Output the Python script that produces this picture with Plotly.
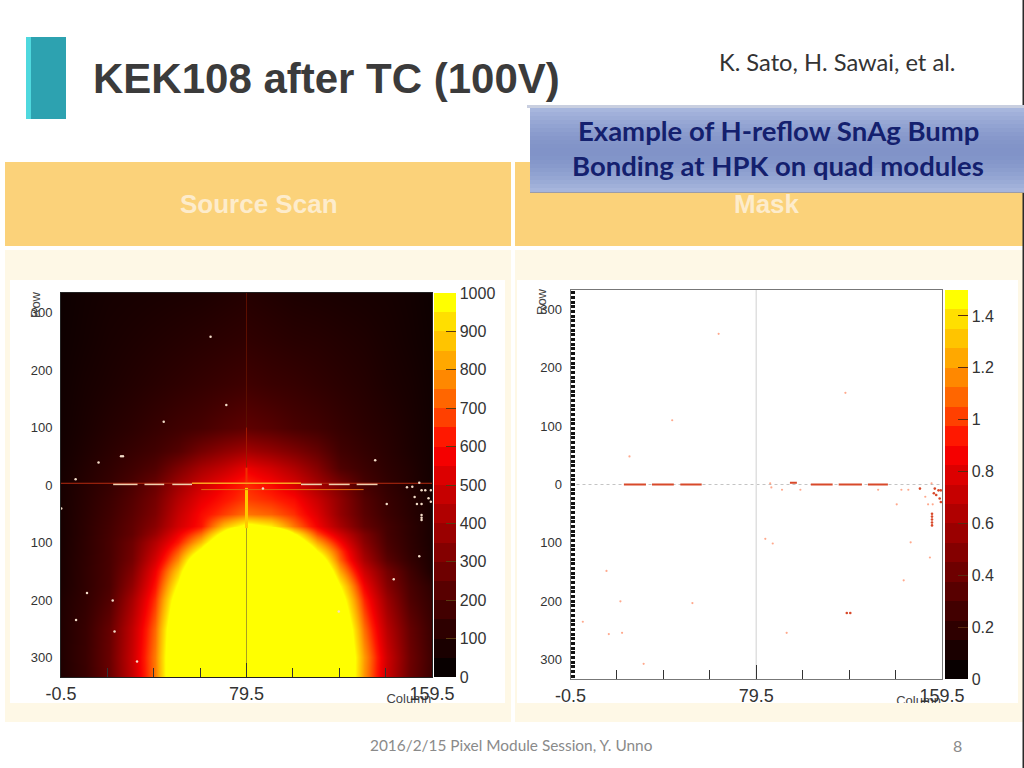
import plotly.graph_objects as go

# source scan counts (rows top to bottom, columns left to right)
scan_cols = [-0.5, 10, 20, 30, 40, 50, 60, 70, 80, 90, 100, 110, 120, 130, 140, 150, 159.5]
scan_rows = [334, 250, 175, 100, 60, 30, 0, -25, -50, -72, -85, -100, -115, -130, -150, -175, -200, -250, -300, -334]
scan_counts = [
    [15, 30, 40, 45, 50, 55, 60, 70, 80, 70, 60, 55, 50, 45, 40, 30, 15],
    [20, 35, 50, 60, 70, 80, 90, 100, 110, 100, 90, 85, 75, 65, 50, 35, 20],
    [25, 45, 60, 75, 90, 105, 120, 135, 150, 135, 125, 110, 95, 80, 60, 45, 25],
    [30, 55, 80, 100, 125, 150, 170, 200, 225, 205, 175, 155, 125, 100, 80, 55, 30],
    [35, 65, 95, 125, 155, 200, 280, 340, 390, 350, 300, 240, 155, 120, 90, 60, 35],
    [40, 75, 110, 150, 195, 300, 400, 470, 560, 500, 420, 320, 190, 140, 100, 70, 35],
    [45, 85, 125, 180, 250, 380, 490, 580, 650, 600, 520, 400, 290, 170, 115, 75, 40],
    [46, 90, 140, 200, 280, 430, 550, 620, 680, 650, 600, 480, 340, 200, 130, 85, 45],
    [46, 95, 150, 215, 300, 470, 600, 680, 760, 730, 660, 530, 350, 215, 140, 90, 45],
    [46, 100, 160, 230, 330, 500, 620, 880, 1060, 980, 760, 580, 400, 240, 160, 100, 50],
    [46, 100, 165, 235, 370, 570, 750, 1080, 1600, 1500, 1020, 700, 500, 300, 165, 100, 50],
    [48, 105, 170, 260, 430, 630, 880, 1250, 1800, 1800, 1200, 840, 590, 330, 175, 105, 50],
    [50, 105, 170, 270, 470, 720, 1050, 1550, 1800, 1800, 1450, 1000, 680, 370, 190, 110, 55],
    [52, 108, 172, 280, 510, 800, 1250, 1750, 1800, 1800, 1675, 1175, 730, 410, 215, 120, 55],
    [52, 110, 175, 310, 570, 910, 1400, 1800, 1800, 1800, 1800, 1350, 840, 490, 280, 150, 60],
    [55, 110, 178, 350, 620, 1025, 1525, 1800, 1800, 1800, 1800, 1500, 1000, 580, 320, 175, 100],
    [65, 115, 195, 400, 670, 1125, 1625, 1800, 1800, 1800, 1800, 1600, 1100, 650, 370, 190, 115],
    [70, 130, 240, 460, 740, 1250, 1750, 1800, 1800, 1800, 1800, 1800, 1250, 750, 440, 240, 135],
    [70, 135, 250, 480, 770, 1280, 1800, 1800, 1800, 1800, 1800, 1800, 1300, 820, 490, 260, 145],
    [65, 130, 245, 470, 765, 1280, 1800, 1800, 1800, 1800, 1800, 1800, 1300, 810, 480, 255, 140],
]

# hot pixels on the source scan
hot_cols = [64, 70.8, 43.8, 25.4, 26.2, 15.7, 135, 5.8, -0.4, 154, 148.7, 151, 155, 156.6, 159, 152, 158, 159,
            140, 153, 155, 155, 155, 155, 154, 143, 10.7, 21.8, 6, 22.6, 32.3, 119.3, 86.6]
hot_rows = [258, 139, 110, 50, 50, 39, 43, 10, -41, 4, -4, -3, -9, -9, -9, -21, -23, -29,
            -33, -33, -33, -52, -57, -61, -124, -164, -188, -201, -235, -255, -307, -220, -6]

# seams of the sensor on the source scan
seam_cols = [-0.5, 159.5]
seam_rows = [3, 3]
seam_bright_cols = [56, 103]
seam_bright_rows = [3, 3]
seam_low_cols = [60, 130]
seam_low_rows = [-8, -8]
seam_dash_cols = [22, 32.5, None, 35.5, 44, None, 47.5, 56, None, 103, 112, None, 115, 124, None, 127, 136]
seam_dash_rows = [1, 1, None, 1, 1, None, 1, 1, None, 1, 1, None, 1, 1, None, 1, 1]
spine_top_cols = [79.5, 79.5]
spine_top_rows = [334, 100]
spine_up_cols = [79.5, 79.5]
spine_up_rows = [100, 30]
spine_mid_cols = [79.5, 79.5]
spine_mid_rows = [30, -5]
spine_hot_cols = [79.5, 79.5]
spine_hot_rows = [-5, -75]
spine_low_cols = [79.5, 79.5]
spine_low_rows = [-75, -334]

# masked pixels
mask_faint_cols = [63.3, 43.3, 24.9, 117.9, 15, 21, 4.8, 16, 21.7, 31, 52, 92.6, 83.4, 86.6, 146, 154.3, 143, 140,
                   152.3, 153.5, 155.5, 142, 145, 132, 98.5, 90.6, 86, 85.5, 155]
mask_faint_rows = [258, 110, 48, 157, -148, -200, -235, -256, -254, -307, -203, -254, -93, -101, -99, -125, -164, -34,
                   -21, -34, -34, -9, -9, -9, -9, -9, -5, 2, 2]
mask_faint_vals = [1] * len(mask_faint_cols)
mask_red_cols = [150, 156.4, 158, 159, 156, 157, 158.5, 159, 155.2, 155.2, 155.2, 155.2, 155.2, 118.5, 120]
mask_red_rows = [-7, -7, -10, -10, -15, -18, -24, -30, -50, -55, -60, -65, -70, -220, -220]
mask_seg_cols = [22.5, 32, None, 34.6, 44, None, 46.8, 56, None, 94, 97, None, 103, 112.4, None, 115, 125, None, 127.6, 136.2]
mask_seg_rows = [0, 0, None, 0, 0, None, 0, 0, None, 3, 3, None, 0, 0, None, 0, 0, None, 0, 0]
mask_grid_h_cols = [-0.5, 159.5]
mask_grid_h_rows = [0, 0]
mask_grid_v_cols = [79.5, 79.5]
mask_grid_v_rows = [333, -333]

x_ticks = [-0.5, 79.5, 159.5]
x_ticktext = ["-0.5", "79.5", "159.5"]
x_minor = [19.5, 39.5, 59.5, 99.5, 119.5, 139.5]
y_ticks = [300, 200, 100, 0, -100, -200, -300]
y_ticktext = ["300", "200", "100", "0", "100", "200", "300"]

scan_bar_ticks = [0, 100, 200, 300, 400, 500, 600, 700, 800, 900, 1000]
mask_bar_ticks = [0, 0.2, 0.4, 0.6, 0.8, 1, 1.2, 1.4]
mask_bar_text = ["0", "0.2", "0.4", "0.6", "0.8", "1", "1.2", "1.4"]

palette = ["#080000", "#1a0000", "#2e0000", "#420000", "#580000", "#6e0000", "#840000", "#9a0000", "#b00000", "#c60000",
           "#dc0000", "#f50000", "#ff1800", "#ff4000", "#ff6600", "#ff8800", "#ffa800", "#ffc400", "#ffdf00", "#ffff00"]
box_colors = ["#a7b6dd", "#a1b0da", "#9cacd7", "#97a7d4", "#92a3d2", "#8e9fcf", "#8a9bcd", "#8798cb", "#8496c9", "#8294c8",
              "#8193c8", "#8193c8", "#8295c9", "#8597ca", "#889acc", "#8c9ece", "#90a2d1", "#95a6d3", "#9aabd6", "#a0b0d9", "#a6b5dc"]

W, H = 1024, 768
SANS = "Liberation Sans"
LATO = "Lato"

stepped = []
for i, c in enumerate(palette):
    stepped.append([i / len(palette), c])
    stepped.append([(i + 1) / len(palette), c])
smooth = [[i / (len(palette) - 1), c] for i, c in enumerate(palette)]


def dom_x(a, b):
    return [a / W, b / W]


def dom_y(top, bottom):
    return [1 - bottom / H, 1 - top / H]


def rect(x0, y0, x1, y1, color, layer="below"):
    return dict(type="rect", xref="paper", yref="paper", x0=x0 / W, x1=x1 / W, y0=1 - y0 / H, y1=1 - y1 / H,
                fillcolor=color, line_width=0, layer=layer)


def label(text, x, y, size, color, family=LATO, bold=False, **kw):
    return dict(text=f"<b>{text}</b>" if bold else text, x=x / W, y=1 - y / H, xref="paper", yref="paper",
                showarrow=False, xanchor="center", yanchor="middle", font=dict(size=size, color=color, family=family), **kw)


fig = go.Figure()

fig.add_trace(go.Heatmap(
    x=scan_cols, y=scan_rows, z=scan_counts, zmin=0, zmax=1000, zsmooth="best", colorscale=smooth,
    hoverinfo="skip", xaxis="x", yaxis="y", showscale=False,
))


def line(xs, ys, color, width, axes=("x", "y"), dash=None):
    fig.add_trace(go.Scatter(x=xs, y=ys, mode="lines", line=dict(color=color, width=width, dash=dash),
                             xaxis=axes[0], yaxis=axes[1], hoverinfo="skip", showlegend=False))


line(spine_top_cols, spine_top_rows, "#5c0e00", 1)
line(spine_up_cols, spine_up_rows, "#a01800", 1)
line(spine_mid_cols, spine_mid_rows, "#f03000", 2)
line(spine_hot_cols, spine_hot_rows, "#ffc800", 3)
line(spine_low_cols, spine_low_rows, "#a8a020", 1)
line(seam_cols, seam_rows, "#b52a10", 1)
line(seam_bright_cols, seam_bright_rows, "#ffa020", 1.5)
line(seam_low_cols, seam_low_rows, "#e06a10", 1)
line(seam_dash_cols, seam_dash_rows, "#f0d0b0", 1.5)

fig.add_trace(go.Scatter(
    x=hot_cols, y=hot_rows, mode="markers", xaxis="x", yaxis="y", hoverinfo="skip", showlegend=False,
    marker=dict(size=2.5, color="#f3dcc8", line_width=0),
))
# this trace only carries the stepped colour bar of the scan
fig.add_trace(go.Scatter(
    x=[None, None], y=[None, None], mode="markers", xaxis="x", yaxis="y", hoverinfo="skip", showlegend=False,
    marker=dict(color=[0, 1000], cmin=0, cmax=1000, colorscale=stepped,
                colorbar=dict(x=434 / W, xanchor="left", y=1 - 293 / H, yanchor="top", len=384 / H, lenmode="fraction",
                              thickness=22, xpad=0, ypad=0, outlinewidth=0, tickmode="array", tickvals=scan_bar_ticks,
                              ticks="inside", ticklen=10, tickcolor="#5a3a10",
                              tickfont=dict(family=SANS, size=16, color="#333"))),
))

line(mask_grid_h_cols, mask_grid_h_rows, "#c4c4c4", 1, ("x2", "y2"), "dot")
line(mask_grid_v_cols, mask_grid_v_rows, "#e0e0e0", 1.5, ("x2", "y2"))
line(mask_seg_cols, mask_seg_rows, "#d8492a", 2, ("x2", "y2"))

fig.add_trace(go.Scatter(
    x=mask_faint_cols, y=mask_faint_rows, mode="markers", xaxis="x2", yaxis="y2", hoverinfo="skip", showlegend=False,
    marker=dict(size=2.2, color=mask_faint_vals, cmin=0, cmax=1.5, colorscale=stepped, opacity=0.45, line_width=0,
                colorbar=dict(x=945 / W, xanchor="left", y=1 - 290 / H, yanchor="top", len=389 / H, lenmode="fraction",
                              thickness=23, xpad=0, ypad=0, outlinewidth=0, tickmode="array", tickvals=mask_bar_ticks,
                              ticktext=mask_bar_text, ticks="inside", ticklen=10, tickcolor="#5a2a10",
                              tickfont=dict(family=SANS, size=16, color="#333"))),
))
fig.add_trace(go.Scatter(x=mask_red_cols, y=mask_red_rows, mode="markers", xaxis="x2", yaxis="y2", hoverinfo="skip",
                         showlegend=False, marker=dict(size=2.6, color="#d8492a", line_width=0)))

# clipped axis captions sit in the plot layer so the pale band can cut them
fig.add_trace(go.Scatter(x=[149.5], y=[-333], mode="text", text=["<br>Column"], textposition="bottom center",
                         textfont=dict(family=SANS, size=13, color="#444"), cliponaxis=False, xaxis="x", yaxis="y",
                         hoverinfo="skip", showlegend=False))
fig.add_trace(go.Scatter(x=[149.4], y=[-332], mode="text", text=["<br>Column"], textposition="bottom center",
                         textfont=dict(family=SANS, size=13, color="#444"), cliponaxis=False, xaxis="x2", yaxis="y2",
                         hoverinfo="skip", showlegend=False))

x_common = dict(tickmode="array", tickvals=x_ticks, ticktext=x_ticktext, ticks="inside", ticklen=14, tickcolor="#333",
                tickfont=dict(family=SANS, size=18, color="#333"), showgrid=False, zeroline=False, showline=True, mirror=True,
                ticklabelstandoff=0, minor=dict(tickmode="array", tickvals=x_minor, ticks="inside", ticklen=9, tickcolor="#333", showgrid=False))
y_common = dict(tickmode="array", tickvals=y_ticks, ticktext=y_ticktext, tickfont=dict(family=SANS, size=13, color="#333"),
                showgrid=False, zeroline=False, showline=True, mirror=True, ticklabelstandoff=5)

shapes = [
    rect(26, 37, 66, 119, "#2da2b0"),
    rect(26, 37, 31, 119, "#4fd8de"),
    rect(5, 162, 511, 246, "#fbd27a"),
    rect(515, 162, 1024, 246, "#fbd27a"),
    rect(5, 250, 511, 722, "#fef8e6"),
    rect(515, 250, 1024, 722, "#fef8e6"),
    rect(10, 280, 505, 703, "#ffffff"),
    rect(517, 280, 1018, 703, "#ffffff"),
    rect(5, 703, 511, 722, "#fef8e6", "above"),
    rect(515, 703, 1024, 722, "#fef8e6", "above"),
    rect(1022.5, 0, 1024, 768, "#2a2a2a", "above"),
    rect(530, 190, 1024, 193, "#9c9ca8", "above"),
    rect(527, 105, 1024, 108, "#c9cfe0", "above"),
]
for i, c in enumerate(box_colors):
    for j in range(2):
        shapes.append(rect(530, 108 + 4 * i + j * 2, 1024, 108 + 4 * i + j * 2 + 2, c, "above"))

annotations = [
    label("KEK108 after TC (100V)", 326, 78, 42, "#3b3b3b", SANS, True),
    label("K. Sato, H. Sawai, et al.", 837, 62, 23.7, "#333333"),
    label("Example of H-reflow SnAg Bump", 778, 131, 27.5, "#14206e", LATO, True),
    label("Bonding at HPK on quad modules", 778, 165, 27.5, "#14206e", LATO, True),
    label("Source Scan", 259, 204, 26, "#fdeccc", SANS, True),
    label("Mask", 767, 204, 26, "#fdeccc", SANS, True),
    label("2016/2/15 Pixel Module Session, Y. Unno", 511, 745, 15.4, "#8a8a8a"),
    label("8", 957, 745, 16, "#8a8a8a"),
    label("Row", 35, 305, 13, "#444", SANS, False, textangle=-90),
    label("Row", 541, 302, 13, "#444", SANS, False, textangle=-90),
]

fig.update_layout(
    width=W, height=H, margin=dict(l=0, r=0, t=0, b=0, autoexpand=False), paper_bgcolor="white", plot_bgcolor="white",
    showlegend=False, shapes=shapes, annotations=annotations,
    xaxis=dict(domain=dom_x(61, 432), range=[-0.5, 159.5], anchor="y", linecolor="#222", **x_common),
    yaxis=dict(domain=dom_y(293, 677), range=[-334, 334], anchor="x", ticks="", linecolor="#222", **y_common),
    xaxis2=dict(domain=dom_x(570.5, 942), range=[-0.5, 159.5], anchor="y2", linecolor="#777", **x_common),
    yaxis2=dict(domain=dom_y(290, 679), range=[-333, 333], anchor="x2", ticks="", linecolor="#777",
                minor=dict(dtick=8, ticks="inside", ticklen=4, tickwidth=2.5, tickcolor="#111", showgrid=False), **y_common),
)

fig.write_html("out.html", config=dict(displayModeBar=False),
               post_script="document.body.style.margin='0';document.body.style.overflow='hidden';")
